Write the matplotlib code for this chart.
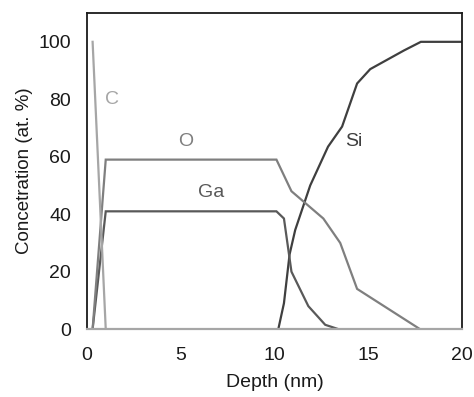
#!/usr/bin/env python3
"""Depth profile of C, O, Ga and Si concentration."""

import matplotlib

matplotlib.use("Agg")
import matplotlib.pyplot as plt

# Depth (nm) and concentration (at. %)
C_DEPTH = [0.3, 1.0, 20.0]
C_CONC = [100, 0, 0]

O_DEPTH = [0.3, 1.0, 10.1, 10.9, 12.6, 13.5, 14.4, 17.75, 20.0]
O_CONC = [0, 59, 59, 48, 38.5, 30, 14, 0, 0]

GA_DEPTH = [0.3, 1.0, 10.1, 10.5, 10.9, 11.8, 12.7, 13.4, 20.0]
GA_CONC = [0, 41, 41, 38.5, 20, 8, 1.5, 0, 0]

SI_DEPTH = [0.3, 10.2, 10.5, 10.8, 11.1, 11.9, 12.85, 13.6, 14.4, 15.1, 16.9, 17.8, 20.0]
SI_CONC = [0, 0, 9, 26, 34.5, 50, 63.5, 70.5, 85.5, 90.5, 97, 100, 100]

ELEMENTS = [
    ("Si", SI_DEPTH, SI_CONC, "#3f3f3f", (14.2, 65.3)),
    ("Ga", GA_DEPTH, GA_CONC, "#595959", (6.6, 47.5)),
    ("O", O_DEPTH, O_CONC, "#7f7f7f", (5.25, 65.3)),
    ("C", C_DEPTH, C_CONC, "#a6a6a6", (1.35, 80)),
]

plt.rcParams["font.family"] = ["Liberation Sans", "DejaVu Sans"]

fig = plt.figure(figsize=(4.74, 3.97), dpi=100)
ax = fig.add_axes([0.1835, 0.171, 0.7915, 0.796])

for name, depth, conc, color, (lx, ly) in ELEMENTS:
    ax.plot(depth, conc, color=color, linewidth=1.6, solid_joinstyle="miter")
    ax.text(lx, ly, name, color=color, fontsize=14, ha="center", va="center")

ax.set_xlim(0, 20)
ax.set_ylim(0, 110)
ax.set_xticks([0, 5, 10, 15, 20])
ax.set_yticks([0, 20, 40, 60, 80, 100])
ax.tick_params(length=0, labelsize=14, colors="#1a1a1a")
ax.tick_params(axis="x", pad=13)
ax.tick_params(axis="y", pad=11.5)
ax.set_xlabel("Depth (nm)", fontsize=14, color="#1a1a1a", labelpad=7)
ax.set_ylabel("Concetration (at. %)", fontsize=13.5, color="#1a1a1a", labelpad=4)

for side in ["left", "right", "top"]:
    ax.spines[side].set_color("#1a1a1a")
    ax.spines[side].set_linewidth(1.3)
ax.spines["bottom"].set_color("#a6a6a6")
ax.spines["bottom"].set_linewidth(1.6)

fig.savefig("out.png", dpi=100)
